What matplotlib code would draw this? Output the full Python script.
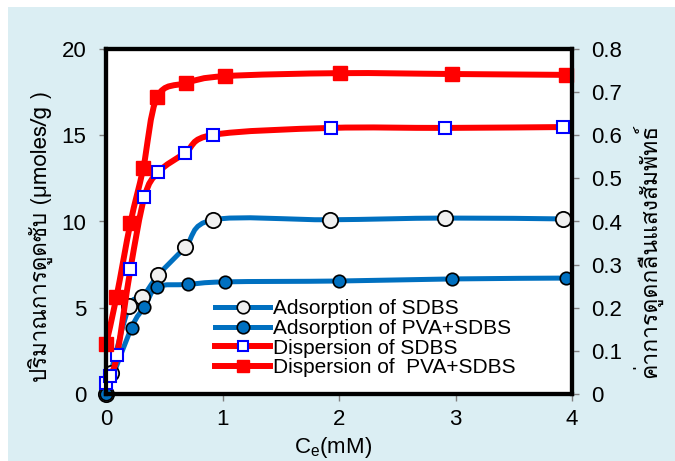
''' Adsorption / dispersion of SDBS vs Ce, twin y-axes '''
import matplotlib
matplotlib.use('Agg')
import matplotlib.pyplot as plt
from matplotlib import font_manager
from matplotlib.ft2font import FT2Font
from matplotlib.lines import Line2D
from matplotlib.path import Path
from matplotlib.patches import PathPatch, Rectangle

plt.rcParams['font.family'] = ['Liberation Sans', 'DejaVu Sans']


def thai_family():
    # look for any installed font that has Thai glyphs
    for f in font_manager.fontManager.ttflist:
        try:
            if 0x0E1B in FT2Font(f.fname).get_charmap():
                return f.name
        except Exception:
            pass
    return None


thai = thai_family()
label_family = [thai, 'Liberation Sans', 'DejaVu Sans'] if thai else ['Liberation Sans', 'DejaVu Sans']

# data (left axis: umoles/g, right axis: relative absorbance)
ads_sdbs_x = [0, 0.04, 0.2, 0.31, 0.45, 0.68, 0.92, 1.92, 2.91, 3.92]
ads_sdbs_y = [0, 1.2, 5.1, 5.6, 6.9, 8.5, 10.1, 10.1, 10.2, 10.15]

ads_pva_x = [0, 0.22, 0.33, 0.44, 0.70, 1.02, 2.0, 2.97, 3.95]
ads_pva_y = [0, 3.85, 5.05, 6.2, 6.35, 6.5, 6.55, 6.67, 6.72]

disp_sdbs_x = [0, 0.035, 0.095, 0.21, 0.33, 0.45, 0.68, 0.92, 1.93, 2.91, 3.92]
disp_sdbs_y = [0.026, 0.042, 0.09, 0.29, 0.457, 0.515, 0.559, 0.601, 0.617, 0.617, 0.619]

disp_pva_x = [0, 0.09, 0.21, 0.32, 0.44, 0.69, 1.02, 2.01, 2.97, 3.95]
disp_pva_y = [0.115, 0.225, 0.397, 0.524, 0.689, 0.721, 0.737, 0.744, 0.742, 0.740]

left_ticks = [0, 5, 10, 15, 20]
right_ticks = [0, 0.1, 0.2, 0.3, 0.4, 0.5, 0.6, 0.7, 0.8]
x_ticks = [0, 1, 2, 3, 4]

blue = '#0070C0'
red = '#FF0000'


def smooth_line(ax, xs, ys, color, lw):
    # Excel-like smoothed line: Catmull-Rom converted to cubic beziers
    pts = list(zip(xs, ys))
    verts = [pts[0]]
    codes = [Path.MOVETO]
    n = len(pts)
    for i in range(n - 1):
        p0 = pts[i - 1] if i > 0 else pts[i]
        p1 = pts[i]
        p2 = pts[i + 1]
        p3 = pts[i + 2] if i + 2 < n else pts[i + 1]
        c1 = (p1[0] + (p2[0] - p0[0]) / 6, p1[1] + (p2[1] - p0[1]) / 6)
        c2 = (p2[0] - (p3[0] - p1[0]) / 6, p2[1] - (p3[1] - p1[1]) / 6)
        verts += [c1, c2, p2]
        codes += [Path.CURVE4] * 3
    ax.add_patch(PathPatch(Path(verts, codes), facecolor='none', edgecolor=color,
                           lw=lw, capstyle='round', joinstyle='round'))


fig = plt.figure(figsize=(6.75, 4.61), dpi=100)
fig.patch.set_facecolor('white')
fig.add_artist(Rectangle((8 / 675, 0), 1, (461 - 7) / 461, transform=fig.transFigure,
                         facecolor='#DBEEF3', edgecolor='none', zorder=-10))

ax = fig.add_axes([106 / 675, 67 / 461, 466 / 675, 345 / 461])
ax2 = ax.twinx()

# adsorption (left axis)
smooth_line(ax, ads_sdbs_x, ads_sdbs_y, blue, 3.6)
smooth_line(ax, ads_pva_x, ads_pva_y, blue, 3.6)
ax.plot(ads_sdbs_x, ads_sdbs_y, ls='none', marker='o', ms=11, mfc='#F0F0F0',
        mec='black', mew=1.3, clip_on=False)
ax.plot(ads_pva_x, ads_pva_y, ls='none', marker='o', ms=9, mfc=blue,
        mec='black', mew=1.2, clip_on=False)

# dispersion (right axis)
smooth_line(ax2, disp_sdbs_x, disp_sdbs_y, red, 4.3)
smooth_line(ax2, disp_pva_x, disp_pva_y, red, 4.3)
ax2.plot(disp_sdbs_x, disp_sdbs_y, ls='none', marker='s', ms=9, mfc='white',
         mec='#0000FF', mew=1.5, clip_on=False)
ax2.plot(disp_pva_x, disp_pva_y, ls='none', marker='s', ms=9.5, mfc=red,
         mec=red, mew=1, clip_on=False)

ax.set_xlim(0, 4)
ax.set_ylim(0, 20)
ax2.set_ylim(0, 0.8)
ax.set_xticks(x_ticks)
ax.set_yticks(left_ticks)
ax2.set_yticks(right_ticks)
ax2.set_yticklabels(['0' if t == 0 else f'{t:.1f}' for t in right_ticks])

for a in (ax, ax2):
    for s in a.spines.values():
        s.set_linewidth(3)
        s.set_color('black')
    a.tick_params(direction='out', length=5, width=1, color='#808080',
                  labelsize=16, pad=9)
ax.tick_params(axis='x', pad=6)
ax.set_facecolor('white')

fig.text(40 / 675, 1 - 237 / 461, 'ปริมาณการดูดซับ (μmoles/g )', rotation=90,
         ha='center', va='center', fontsize=16, family=label_family)
fig.text(647 / 675, 1 - 251 / 461, 'ค่าการดูดกลืนแสงสัมพัทธ์', rotation=90,
         ha='center', va='center', fontsize=16.5, family=label_family)
fig.text(333 / 675, 1 / 461, 'C$_\\mathregular{e}$(mM)', ha='center', va='bottom',
         fontsize=16)

handles = [
    Line2D([], [], color=blue, lw=3.6, marker='o', ms=9, mfc='#F0F0F0', mec='black', mew=1.2),
    Line2D([], [], color=blue, lw=3.6, marker='o', ms=9, mfc=blue, mec='black', mew=1.2),
    Line2D([], [], color=red, lw=4.3, marker='s', ms=7, mfc='white', mec='#0000FF', mew=1.5),
    Line2D([], [], color=red, lw=4.3, marker='s', ms=9, mfc=red, mec=red),
]
labels = ['Adsorption of SDBS', 'Adsorption of PVA+SDBS',
          'Dispersion of SDBS', 'Dispersion of  PVA+SDBS']
ax2.legend(handles, labels, loc='upper left', bbox_to_anchor=(205 / 675, 1 - 289 / 461),
           bbox_transform=fig.transFigure, frameon=False, fontsize=15,
           handlelength=2.6, handletextpad=0.15, labelspacing=0.03, borderpad=0)

fig.savefig('out.png', dpi=100)
